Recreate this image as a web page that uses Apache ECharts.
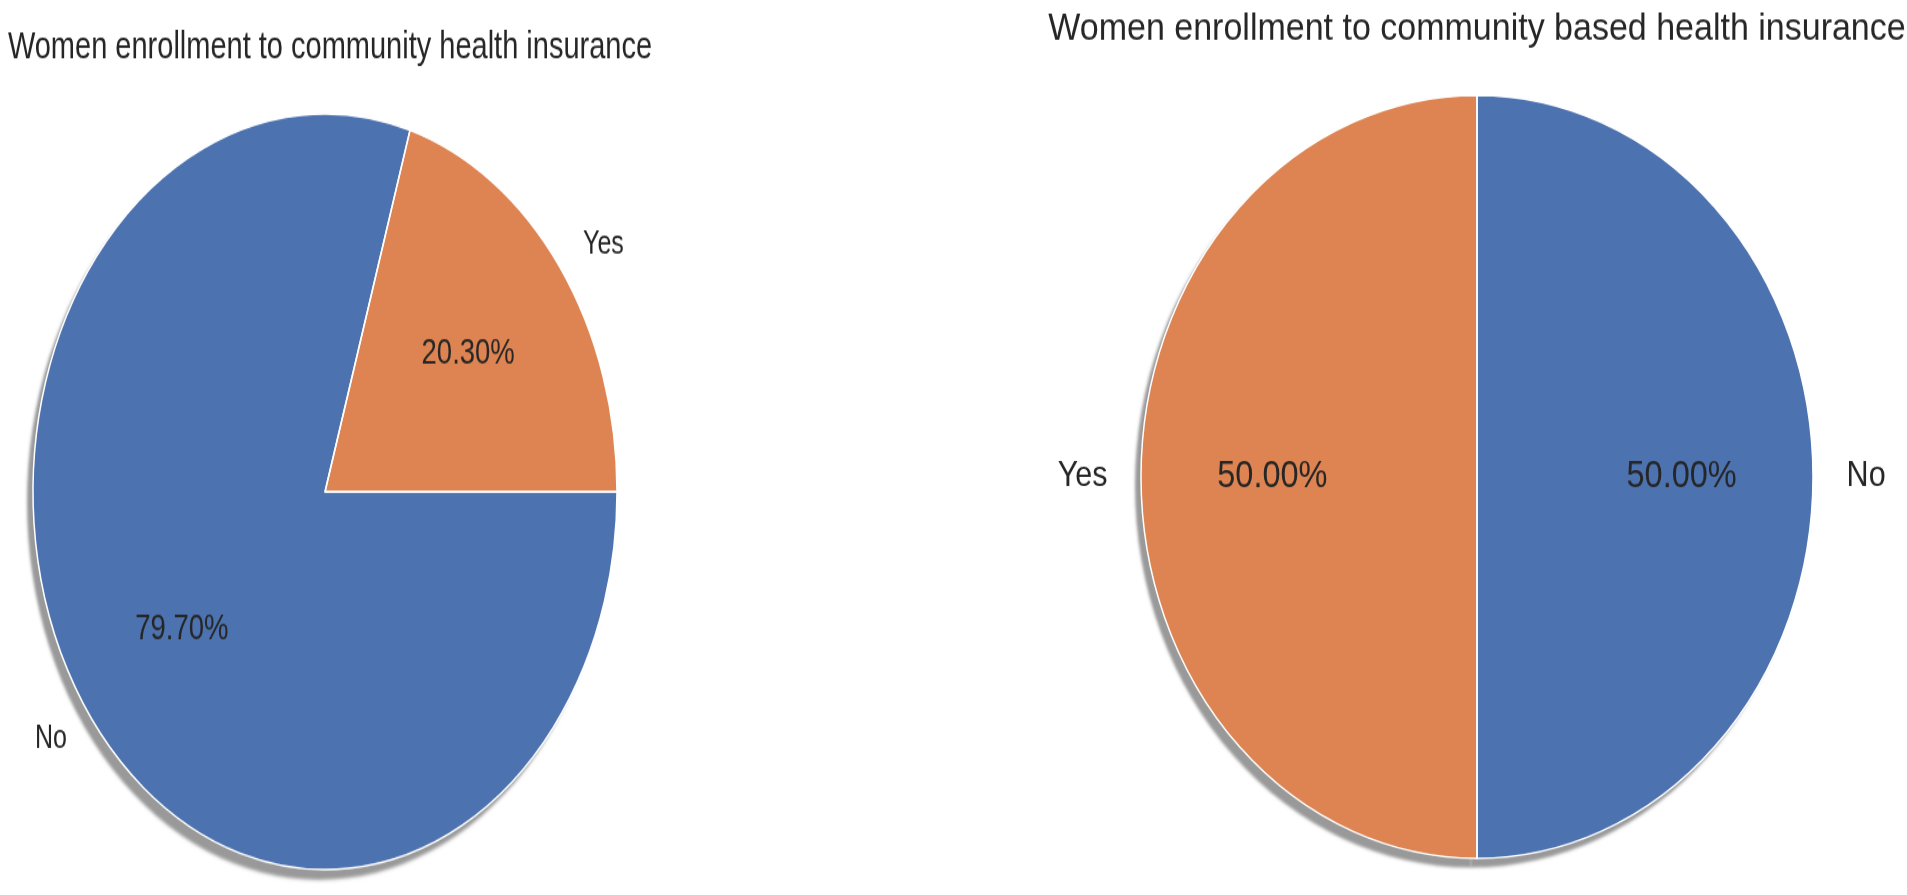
<!DOCTYPE html>
<html>
<head>
    <meta charset="utf-8">
    <title>Women enrollment pies</title>
    <script src="https://cdn.jsdelivr.net/npm/echarts/dist/echarts.min.js"></script>
    <style type="text/css">
        html, body {margin:0; padding:0; overflow:hidden; background-color:#ffffff;}
        .pane {position:absolute; top:0; transform-origin:0 0;}
    </style>
</head>
<body>
<!-- both pies in the picture are squeezed differently, so each gets its own stretched box -->
<div id="left" class="pane" style="left:0px;width:950px;height:692px;transform:scaleY(1.294);"></div>
<div id="right" class="pane" style="left:950px;width:957px;height:789px;transform:scaleY(1.1354);"></div>

<script type="text/javascript">

    // data
    var leftTitle = 'Women enrollment to community health insurance';
    var leftNames = ['Yes', 'No'];
    var leftValues = [20.3, 79.7];

    var rightTitle = 'Women enrollment to community based health insurance';
    var rightNames = ['No', 'Yes'];
    var rightValues = [50, 50];

    var colorOf = {Yes: '#DD8452', No: '#4C72B0'};
    var textColor = '#262626';

    function pieData(names, values, colored) {
        var out = [];
        for (var i = 0; i < names.length; i++) {
            var d = {name: names[i], value: values[i]};
            if (colored) d.itemStyle = {color: colorOf[names[i]]};
            out.push(d);
        }
        return out;
    }

    function makeOption(title, names, values, cfg) {
        var total = 0;
        for (var i = 0; i < values.length; i++) total += values[i];

        var common = {
            type: 'pie',
            center: cfg.center,
            startAngle: cfg.startAngle,
            clockwise: cfg.clockwise,
            silent: true,
            animation: false,
            avoidLabelOverlap: false,
            emphasis: {disabled: true},
            labelLine: {show: false}
        };

        // filled wedges with the drop shadow (no stroke, so the stroke shadow can't bleed inside)
        var wedges = echarts.util.merge({
            radius: cfg.r,
            label: {show: false},
            itemStyle: {
                borderWidth: 0,
                shadowColor: 'rgba(70,70,70,0.55)',
                shadowBlur: 3,
                shadowOffsetX: -6,
                shadowOffsetY: 8
            },
            data: pieData(names, values, true)
        }, common, true);

        // white wedge edges on top
        var edges = echarts.util.merge({
            radius: cfg.r,
            label: {show: false},
            itemStyle: {color: 'transparent', borderColor: '#ffffff', borderWidth: 1.5},
            data: pieData(names, values, false)
        }, common, true);

        // transparent disc whose middle radius is 0.6 r -> percentage labels
        var pct = echarts.util.merge({
            radius: [0, cfg.r * 1.2],
            itemStyle: {color: 'transparent'},
            label: {
                show: true,
                position: 'inside',
                color: textColor,
                fontFamily: 'Liberation Sans',
                fontSize: cfg.pctSize,
                formatter: function (p) {
                    return (p.value / total * 100).toFixed(2) + '%';
                }
            },
            data: pieData(names, values, false)
        }, common, true);

        // category labels anchored at 1.1 r, left/right aligned like matplotlib
        var lab = echarts.util.merge({
            radius: cfg.r,
            itemStyle: {color: 'transparent'},
            label: {
                show: true,
                position: 'outside',
                distanceToLabelLine: 0,
                color: textColor,
                fontFamily: 'Liberation Sans',
                fontSize: cfg.nameSize,
                formatter: '{b}'
            },
            labelLine: {show: false, length: cfg.r * 0.1, length2: 0},
            data: pieData(names, values, false)
        }, common, true);

        return {
            backgroundColor: '#ffffff',
            title: {
                text: title,
                left: cfg.titleX,
                top: cfg.titleY,
                padding: 0,
                textAlign: 'center',
                textVerticalAlign: 'middle',
                textStyle: {
                    color: textColor,
                    fontFamily: 'Liberation Sans',
                    fontWeight: 'normal',
                    fontSize: cfg.titleSize
                }
            },
            series: [wedges, edges, pct, lab]
        };
    }

    var leftChart = echarts.init(document.getElementById('left'));
    leftChart.setOption(makeOption(leftTitle, leftNames, leftValues, {
        center: [325, 380],
        r: 292,
        startAngle: 0,
        clockwise: false,
        titleX: 330,
        titleY: 37,
        titleSize: 29,
        pctSize: 27.5,
        nameSize: 25
    }));

    var rightChart = echarts.init(document.getElementById('right'));
    rightChart.setOption(makeOption(rightTitle, rightNames, rightValues, {
        center: [527, 420],
        r: 336,
        startAngle: 90,
        clockwise: true,
        titleX: 527,
        titleY: 26,
        titleSize: 34,
        pctSize: 32.5,
        nameSize: 30.5
    }));

</script>
</body>
</html>
